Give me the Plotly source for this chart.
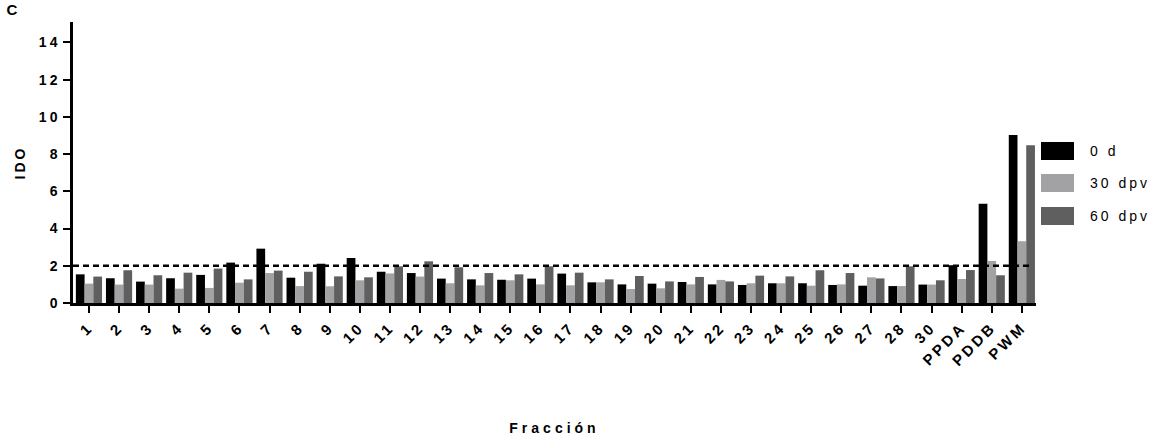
import plotly.graph_objects as go

# ---------------- data ----------------
categories = [str(i) for i in range(1, 29)] + ["30", "PPDA", "PDDB", "PWM"]
series_names = ["0 d", "30 dpv", "60 dpv"]
vals_0d = [1.54, 1.33, 1.15, 1.33, 1.51, 2.17, 2.92, 1.36, 2.11, 2.42, 1.68, 1.61, 1.31, 1.27, 1.25, 1.31,
           1.58, 1.11, 1.00, 1.04, 1.13, 1.00, 0.97, 1.06, 1.06, 0.97, 0.93, 0.91, 0.99, 2.03, 5.33, 9.03]
vals_30dpv = [1.04, 0.99, 0.99, 0.77, 0.81, 1.09, 1.61, 0.91, 0.90, 1.22, 1.59, 1.42, 1.06, 0.95, 1.22, 1.00,
              0.95, 1.11, 0.75, 0.79, 1.00, 1.24, 1.06, 1.06, 0.93, 1.00, 1.38, 0.91, 0.99, 1.29, 2.26, 3.32]
vals_60dpv = [1.42, 1.76, 1.49, 1.63, 1.85, 1.27, 1.74, 1.68, 1.43, 1.38, 1.97, 2.24, 1.92, 1.61, 1.54, 1.97,
              1.63, 1.27, 1.45, 1.16, 1.40, 1.16, 1.47, 1.43, 1.76, 1.61, 1.32, 1.97, 1.22, 1.77, 1.49, 8.48]
threshold = 2
y_ticks = [0, 2, 4, 6, 8, 10, 12, 14]

colors = ["#000000", "#a2a2a5", "#5f5f5f"]

# ---------------- layout geometry ----------------
W, H = 1159, 437
ML, MR, MT, MB = 73, 123, 22, 134
PW, PH = W - ML - MR, H - MT - MB

def px_x(x):
    return (x - ML) / PW

def px_y(y):
    return (H - MB - y) / PH

FONT = "Liberation Sans, Arial, sans-serif"

fig = go.Figure()
for name, vals, col in zip(series_names, [vals_0d, vals_30dpv, vals_60dpv], colors):
    fig.add_trace(go.Bar(x=categories, y=vals, name=name, marker=dict(color=col, line=dict(width=0)),
                         showlegend=False))

# threshold dashed line
fig.add_shape(type="line", xref="paper", yref="y", x0=0, x1=px_x(1031), y0=threshold, y1=threshold,
              line=dict(color="black", width=2.5, dash="6px,4px"))

# custom legend (large swatches)
leg_top = [142, 174, 207]
for name, col, top in zip(series_names, colors, leg_top):
    fig.add_shape(type="rect", xref="paper", yref="paper", x0=px_x(1041), x1=px_x(1074),
                  y0=px_y(top + 18), y1=px_y(top), fillcolor=col, line=dict(width=0))
    fig.add_annotation(xref="paper", yref="paper", x=px_x(1088), y=px_y(top + 9), text=name,
                       showarrow=False, xanchor="left", yanchor="middle", align="left",
                       font=dict(family=FONT, size=14, color="black"))

# panel letter
fig.add_annotation(xref="paper", yref="paper", x=px_x(6), y=px_y(10), text="<b>C</b>", showarrow=False,
                   xanchor="left", yanchor="middle", font=dict(family=FONT, size=15, color="black"))

fig.update_layout(
    width=W, height=H,
    margin=dict(l=ML, r=MR, t=MT, b=MB, pad=0),
    paper_bgcolor="white", plot_bgcolor="white",
    barmode="group", bargap=0.13, bargroupgap=0,
    font=dict(family=FONT, color="black"),
)
fig.update_xaxes(
    type="category", range=[-0.53, 31.47], automargin=False,
    showline=True, linecolor="black", linewidth=2.5,
    ticks="outside", ticklen=7, tickwidth=2, tickcolor="black",
    tickangle=-45, tickfont=dict(family=FONT, size=15, color="black", weight="bold"),
    title=dict(text="Fracción", font=dict(family=FONT, size=14, color="black", weight="bold"), standoff=64),
    showgrid=False, zeroline=False,
)
fig.update_yaxes(
    range=[0, 15.1], tickvals=y_ticks, ticktext=[str(t) for t in y_ticks], automargin=False,
    showline=True, linecolor="black", linewidth=2.5,
    ticks="outside", ticklen=7, tickwidth=2, tickcolor="black",
    tickfont=dict(family=FONT, size=14, color="black", weight="bold"),
    title=dict(text="IDO", font=dict(family=FONT, size=14, color="black", weight="bold"), standoff=16),
    showgrid=False, zeroline=False,
)

post = """
var s = document.createElement('style');
s.innerHTML = '.main-svg text { letter-spacing: 3px; } .main-svg .xtitle { letter-spacing: 4px; }';
document.head.appendChild(s);
"""
fig.write_html("out.html", post_script=post)
